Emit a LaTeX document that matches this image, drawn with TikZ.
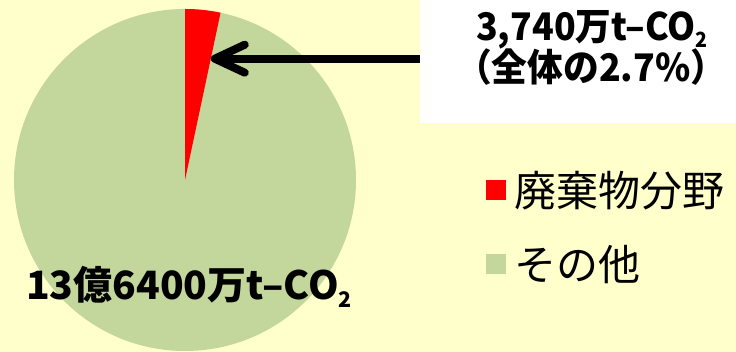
\documentclass[tikz,border=0pt]{standalone}
\usepackage{fontspec}
\usepackage{graphicx}
\usetikzlibrary{positioning,arrows.meta}
\newfontfamily\jpfont{Noto Sans CJK JP}
\newfontfamily\jpbold{Noto Sans CJK JP}
\newfontfamily\jpboldnarrow{Noto Sans CJK JP}[FakeStretch=0.94]
\newcommand\lowsub[1]{\raisebox{-0.18em}{\scalebox{0.55}{#1}}}
\definecolor{bgyellow}{RGB}{255,255,204}
\definecolor{othergreen}{RGB}{195,214,155}
\definecolor{wastered}{RGB}{255,0,0}
\tikzset{
  keybox/.style={minimum size=20pt, inner sep=0pt},
  keytext/.style={inner sep=0pt, font=\jpfont\fontsize{42}{42}\selectfont},
  boldtext/.style={inner sep=0pt, font=\jpbold\bfseries\fontsize{39}{37}\selectfont},
  boxtext/.style={inner sep=0pt, font=\jpboldnarrow\bfseries\fontsize{38}{37}\selectfont},
  pointer/.style={line width=8pt, -{Straight Barb[length=30pt, width=28pt, line cap=round, line join=round]}}
}
\begin{document}
\begin{tikzpicture}[x=1pt, y=1pt]
\useasboundingbox (0,0) rectangle (736,352);
% Background
\fill[bgyellow] (0,0) rectangle (736,352);

% Pie
\fill[othergreen] (185,172) circle (171);
\fill[wastered, shift={(185,172)}] (0,0) -- (90:171) arc (90:78:171) -- cycle;
\coordinate[shift={(185,172)}] (slicetip) at (78:124);

% Total label
\node[boldtext, anchor=base west] (totallabel) at (26,52) {13億6400万t–CO\lowsub{2}};

% Share box
\node[fill=white, minimum width=316pt, minimum height=123pt, inner sep=0pt, anchor=north east] (sharebox) at (736,352) {};
\node[boxtext, anchor=base west] (sharetext) at (476,311) {3,740万t–CO\lowsub{2}};
\node[boxtext, anchor=base west] (sharepct) at (475,270) {\kern-0.5em（全体の2.7\%）};
\draw[pointer] (slicetip -| sharebox.west) -- (slicetip);

% Legend
\node[keybox, fill=wastered] (wastekey) at (496,161.5) {};
\node[keytext, right=8pt of wastekey] (wastetext) {廃棄物分野};
\node[keybox, fill=othergreen] (otherkey) at (496,87.5) {};
\node[keytext, right=8pt of otherkey] (othertext) {その他};
\end{tikzpicture}
\end{document}
